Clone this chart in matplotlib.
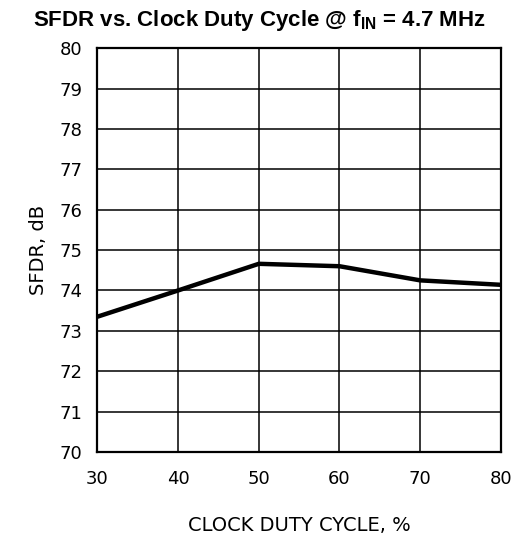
import matplotlib
matplotlib.use("Agg")
import matplotlib.pyplot as plt

duty_cycle = [30, 40, 50, 60, 70, 80]
sfdr_db = [73.35, 74.0, 74.66, 74.6, 74.25, 74.14]
x_ticks = [30, 40, 50, 60, 70, 80]
y_ticks = [70, 71, 72, 73, 74, 75, 76, 77, 78, 79, 80]

plt.rcParams["mathtext.fontset"] = "custom"
plt.rcParams["mathtext.rm"] = "Liberation Sans"
plt.rcParams["mathtext.bf"] = "Liberation Sans:bold"

fig = plt.figure(figsize=(5.18, 5.41), dpi=100)
ax = fig.add_axes([0.188, 0.1645, 0.779, 0.7465])

ax.plot(duty_cycle, sfdr_db, color="black", linewidth=3.2, solid_capstyle="butt", zorder=3)

ax.set_xlim(30, 80)
ax.set_ylim(70, 80)
ax.set_xticks(x_ticks)
ax.set_yticks(y_ticks)
ax.grid(True, color="black", linewidth=1.1)
for s in ax.spines.values():
    s.set_linewidth(1.6)
ax.tick_params(length=0, labelsize=13)
ax.tick_params(axis="x", pad=13)
ax.tick_params(axis="y", pad=11)

ax.set_xlabel("CLOCK DUTY CYCLE, %", fontsize=14, labelpad=20)
ax.set_ylabel("SFDR, dB", fontsize=14, labelpad=8)
fig.text(0.5, 0.962, r"SFDR vs. Clock Duty Cycle @ $\mathbf{f_{IN}}$ = 4.7 MHz",
         ha="center", va="center", fontsize=16, fontweight="bold",
         family="Liberation Sans")

fig.savefig("out.png", dpi=100)
